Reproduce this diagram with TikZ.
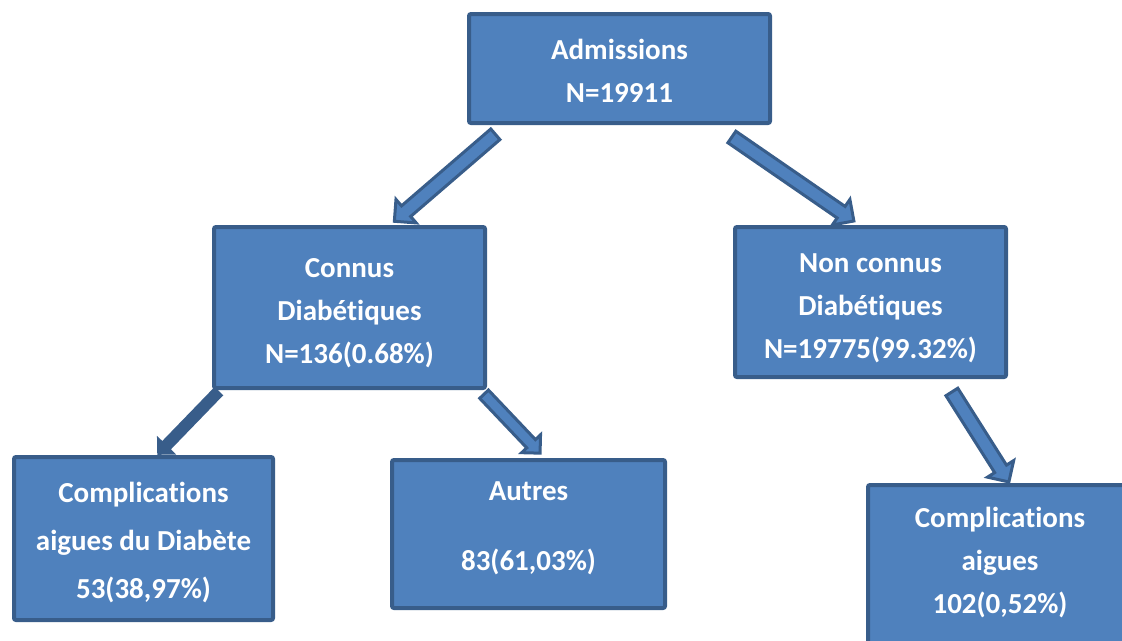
\documentclass[tikz,border=0pt]{standalone}
\usepackage{fontspec}
\setmainfont{Carlito}[RawFeature={-liga;-clig;-calt;-dlig}]
\usetikzlibrary{calc,shapes.arrows,backgrounds}
\definecolor{boxfill}{RGB}{79,129,189}
\definecolor{boxline}{RGB}{56,93,138}
\pgfdeclarelayer{boxes}
\pgfsetlayers{background,boxes,main}
\newcommand\toppad[1]{\rule{0pt}{#1}}
\newcommand\botpad[1]{\rule[-#1]{0pt}{1pt}}
\newcommand\blockarrowbetween[4][]{%
  \path let \p1=($(#3)-(#2)$), \n1={atan2(\y1,\x1)}, \n2={veclen(\x1,\y1)} in
    node[blockarrow,#1,rotate=\n1,minimum height=\n2] (#4) at ($(#2)!0.5!(#3)$) {};%
}
\begin{document}
\begin{tikzpicture}[x=1pt,y=-1pt,
  boxshape/.style={draw=boxline, fill=boxfill, line width=4pt, rounded corners=2pt},
  boxtext/.style={text=white, font=\fontsize{29}{43}\selectfont\bfseries, align=center, inner sep=0pt},
  box/.style={boxshape, boxtext},
  blockarrow/.style={single arrow, draw=boxline, fill=boxfill, line width=3pt,
    inner xsep=0pt, inner ysep=5.5pt, single arrow head extend=8.5pt,
    minimum width=0pt, anchor=center},
  darkarrow/.style={fill=boxline, inner ysep=4pt, single arrow head extend=6pt, line width=2pt},
  thinarrow/.style={inner ysep=4.5pt, single arrow head extend=7pt, line width=3pt}]
\useasboundingbox (0,0) rectangle (1122,640);

% boxes
\node[box, minimum width=301pt, minimum height=109pt] (adm) at (619.5,68.5)
  {\toppad{24pt}Admissions\\N=19911};
\node[box, minimum width=271pt, minimum height=161pt] (con) at (349.5,307.5)
  {\toppad{31pt}Connus\\Diabétiques\\N=136(0.68\%)};
\node[box, minimum width=271pt, minimum height=150pt] (non) at (870.5,302)
  {\toppad{31pt}Non connus\\Diabétiques\\N=19775(99.32\%)};
\node[box, minimum width=259pt, minimum height=163pt] (cpl) at (143.5,538.5)
  {\toppad{28pt}Complications\\[5pt]aigues du Diabète\\[5pt]53(38,97\%)};
\node[box, minimum width=273pt, minimum height=148pt] (aut) at (528.5,534)
  {Autres\\[27pt]83(61,03\%)\botpad{16pt}};
\node[boxtext] (cpr) at (1000,563)
  {Complications\\aigues\\102(0,52\%)};
\begin{pgfonlayer}{boxes}
  \draw[boxshape] ($(cpr.center)+(-132,-78)$) rectangle ($(cpr.center)+(160,100)$);
\end{pgfonlayer}

% arrow end points
\coordinate (a1s) at ($(adm.south)+(-121.5,7)$);
\coordinate (a1e) at ($(con.north)+(47.5,-6)$);
\coordinate (a2s) at ($(adm.south)+(109.5,10)$);
\coordinate (a2e) at ($(non.north)+(-19.5,-6)$);
\coordinate (a3s) at ($(con.south west)+(8,0)$);
\coordinate (a3e) at ($(cpl.north)+(16.5,-3)$);
\coordinate (a4s) at ($(con.south east)+(-5,2)$);
\coordinate (a4e) at ($(aut.north)+(9.5,-7)$);
\coordinate (a5s) at ($(non.south)+(79.5,10)$);
\coordinate (a5e) at ($(cpr.center)+(7,-84)$);

% arrows behind the boxes
\begin{pgfonlayer}{background}
\blockarrowbetween{a1s}{a1e}{arr1}
\blockarrowbetween{a2s}{a2e}{arr2}
\blockarrowbetween[darkarrow]{a3s}{a3e}{arr3}
\blockarrowbetween[thinarrow]{a4s}{a4e}{arr4}
\blockarrowbetween{a5s}{a5e}{arr5}
\end{pgfonlayer}
\end{tikzpicture}
\end{document}
